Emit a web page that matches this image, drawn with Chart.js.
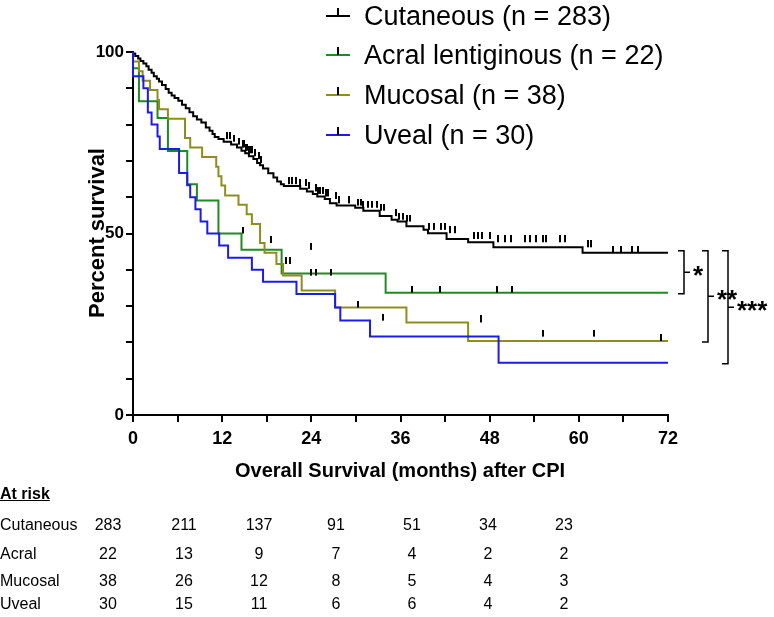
<!DOCTYPE html>
<html>
<head>
<meta charset="utf-8">
<script src="https://cdn.jsdelivr.net/npm/chart.js@4.4.1/dist/chart.umd.min.js"></script>
<style>
  html,body{margin:0;padding:0;background:#fff;}
  #wrap{position:relative;width:774px;height:617px;overflow:hidden;font-family:"Liberation Sans",Arial,Helvetica,sans-serif;color:#000;}
  #c{position:absolute;left:0;top:0;}
  .t{position:absolute;white-space:nowrap;line-height:1;}
  .leg{font-size:27px;transform:translateY(-50%);}
  .ttl{font-weight:bold;font-size:20px;}
  .row{font-size:16px;transform:translateY(-50%);}
  .num{font-size:16px;transform:translate(-50%,-50%);}
</style>
</head>
<body>
<div id="wrap">
<canvas id="c" width="774" height="617"></canvas>
</div>
<script>
// ---------- data ----------
const seriesNames = ["Cutaneous (n = 283)", "Acral lentiginous (n = 22)", "Mucosal (n = 38)", "Uveal (n = 30)"];
const seriesColors = ["#000000", "#1e8c1e", "#8f8d1f", "#1c1ce8"];

const cutT = [0,0.3,0.7,1.0,1.4,1.8,2.1,2.5,2.8,3.2,3.5,3.9,4.4,4.8,5.2,5.6,6.1,6.6,7.1,7.6,8.1,8.6,9.2,9.8,10.3,10.7,11.0,11.5,12.2,13.2,14.0,14.6,15.1,15.6,16.2,16.7,17.1,17.5,18.2,18.9,19.4,19.9,20.3,22.5,23.4,24.2,24.8,25.8,26.5,27.4,29.9,31.0,33.2,34.8,35.6,36.8,39.1,39.7,42.2,45.1,48.5,60.5,63.8,72];
const cutS = [100,99.6,98.9,98.2,97.5,96.8,96.1,95.1,94.3,93.3,92.6,91.9,90.9,89.8,88.8,88.0,87.3,86.6,85.5,84.5,83.4,82.3,81.4,80.6,79.2,78.3,77.4,76.6,76.0,75.3,74.5,73.7,72.8,72.1,71.3,70.5,69.4,68.8,67.9,66.6,65.4,64.3,63.6,63.1,62.3,61.6,60.9,60.2,59.5,58.3,57.7,57.1,56.3,54.8,53.8,53.3,52.0,51.0,50.1,48.5,47.6,46.2,44.7,44.7];
const cutCens = [12.6,13.1,13.6,14.2,14.8,15.0,15.2,15.4,15.6,15.8,16.0,16.4,16.9,17.2,21.0,21.4,21.9,22.5,23.3,23.7,24.6,24.9,25.2,25.6,26.0,26.3,27.3,27.7,29.1,30.3,30.7,31.0,31.6,32.2,32.8,33.4,33.8,35.4,35.8,36.3,36.9,37.3,39.8,40.5,41.4,42.0,42.6,43.4,45.9,46.4,47.0,48.0,49.1,50.0,50.9,52.7,53.4,54.3,55.2,55.6,57.4,58.1,61.2,61.6,64.6,65.7,67.1,68.0];

const acrT = [0,0.8,3.3,4.7,7.3,8.6,11.5,14.6,20.0,34.0,36.7,72];
const acrS = [100,95.5,86.4,81.8,72.7,63.6,59.1,50.0,45.5,39.0,33.7,33.7];
const acrCens = [14.8,24.0,37.6,41.3,49.0,51.0];

const mucT = [0,0.8,1.3,2.3,3.3,3.5,4.7,7.0,7.7,9.3,11.2,11.5,11.9,12.4,14.2,15.3,16.0,17.1,17.7,19.3,20.2,22.7,27.2,36.8,45.1,58.2,72];
const mucS = [100,97.4,94.7,92.1,89.5,86.8,84.2,81.6,76.3,73.7,71.1,68.4,65.8,63.2,60.5,57.9,55.3,52.6,47.4,44.7,41.6,38.4,34.3,29.6,25.5,20.4,20.4];
const mucCens = [18.6,20.6,21.1,24.0,24.6,26.6,46.8,71.1];

const uveT = [0,1.4,2.0,2.5,3.3,3.6,6.2,7.3,7.7,8.4,9.1,10.0,11.6,12.8,16.0,17.5,22.0,27.2,27.9,31.9,49.2,67.0,72];
const uveS = [100,93.3,90.0,83.3,80.0,76.7,73.3,66.7,63.3,60.0,56.7,53.3,50.0,46.7,43.3,40.0,36.7,33.3,29.6,26.0,21.6,14.4,14.4];
const uveCens = [30.3,33.6,55.2,62.1];

const xTickLabels = [0,12,24,36,48,60,72];
const yTickLabels = [0,50,100];

const riskRows = ["Cutaneous","Acral","Mucosal","Uveal"];
const riskCut = [283,211,137,91,51,34,23];
const riskAcr = [22,13,9,7,4,2,2];
const riskMuc = [38,26,12,8,5,4,3];
const riskUve = [30,15,11,6,6,4,2];
const stars = ["*","**","***"];

// ---------- helpers ----------
const FONT = '"Liberation Sans", Arial, Helvetica, sans-serif';
function pairs(T,S){ return T.map((t,i)=>({x:t,y:S[i]})); }
function at(T,S,t){ let v=S[0]; for(let i=0;i<T.length;i++){ if(T[i]<=t) v=S[i]; } return v; }
function cens(T,S,C){ return C.map(t=>({x:t,y:at(T,S,t)})); }
function tickImg(){ const c=document.createElement('canvas'); c.width=2; c.height=14; const g=c.getContext('2d'); g.fillStyle='#000'; g.fillRect(0,0,2,7); return c; }
const TICK = tickImg();

const curves = [
  {T:uveT,S:uveS,C:uveCens,col:seriesColors[3]},
  {T:mucT,S:mucS,C:mucCens,col:seriesColors[2]},
  {T:acrT,S:acrS,C:acrCens,col:seriesColors[1]},
  {T:cutT,S:cutS,C:cutCens,col:seriesColors[0]}
];
const datasets = [];
curves.forEach(c=>{
  datasets.push({type:'line',data:pairs(c.T,c.S),borderColor:c.col,borderWidth:2,stepped:'after',pointRadius:0,fill:false,clip:false,order:2});
});
curves.forEach(c=>{
  datasets.push({type:'scatter',data:cens(c.T,c.S,c.C),pointStyle:TICK,pointRadius:5,showLine:false,clip:false,order:1});
});

const legendY = [16,55,95,135];

const overlay = {
  id:'overlay',
  afterDraw(chart){
    const ctx = chart.ctx, ys = chart.scales.y;
    ctx.save();
    ctx.lineCap='butt';
    legendY.forEach((cy,i)=>{
      ctx.strokeStyle = seriesColors[i]; ctx.lineWidth=2;
      ctx.beginPath(); ctx.moveTo(326,cy); ctx.lineTo(350,cy); ctx.stroke();
      ctx.strokeStyle = '#000';
      ctx.beginPath(); ctx.moveTo(338,cy-8); ctx.lineTo(338,cy); ctx.stroke();
    });
    const top = ys.getPixelForValue(cutS[cutS.length-1]) - 2;
    const ends = [acrS[acrS.length-1], mucS[mucS.length-1], uveS[uveS.length-1]];
    const bx = [684,708,728];
    ctx.strokeStyle='#000'; ctx.lineWidth=1.5;
    ctx.fillStyle='#000';
    ctx.font = 'bold 26px ' + FONT;
    ctx.textAlign='left'; ctx.textBaseline='alphabetic';
    ends.forEach((v,i)=>{
      const bot = ys.getPixelForValue(v) + 1;
      const x = bx[i];
      ctx.beginPath();
      ctx.moveTo(x-6,top); ctx.lineTo(x,top); ctx.lineTo(x,bot); ctx.lineTo(x-6,bot);
      const mid=(top+bot)/2;
      ctx.moveTo(x,mid); ctx.lineTo(x+6,mid);
      ctx.stroke();
      ctx.fillText(stars[i], x+9, mid+12);
    });
    ctx.restore();
  }
};

const chart = new Chart(document.getElementById('c'), {
  data:{datasets},
  options:{
    responsive:false, animation:false, devicePixelRatio:1,
    layout:{padding:{left:0,top:52,right:106,bottom:142}},
    plugins:{legend:{display:false},tooltip:{enabled:false}},
    scales:{
      x:{type:'linear',min:0,max:72,
        afterBuildTicks:s=>{ s.ticks = [0,6,12,18,24,30,36,42,48,54,60,66,72].map(v=>({value:v})); },
        ticks:{autoSkip:false,maxRotation:0,padding:6,color:'#000',font:{family:FONT,size:18,weight:'bold'},
          callback:v=> xTickLabels.includes(v) ? String(v) : ''},
        grid:{drawOnChartArea:false,drawTicks:true,tickLength:7,lineWidth:2,color:'#000'},
        border:{display:true,color:'#000',width:2},
        afterFit:s=>{ s.height=60; }
      },
      y:{type:'linear',min:0,max:100,
        afterBuildTicks:s=>{ s.ticks = [0,10,20,30,40,50,60,70,80,90,100].map(v=>({value:v})); },
        ticks:{autoSkip:false,padding:2,color:'#000',font:{family:FONT,size:17,weight:'bold'},
          callback:v=> yTickLabels.includes(v) ? String(v) : ''},
        grid:{drawOnChartArea:false,drawTicks:true,tickLength:7,lineWidth:2,color:'#000'},
        border:{display:true,color:'#000',width:2},
        afterFit:s=>{ s.width=133; }
      }
    }
  },
  plugins:[overlay]
});

// ---------- HTML text ----------
const wrap = document.getElementById('wrap');
function add(cls, txt, css){ const d=document.createElement('div'); d.className='t '+cls; d.textContent=txt; Object.assign(d.style,css); wrap.appendChild(d); return d; }
seriesNames.forEach((n,i)=> add('leg', n, {left:'364px', top:legendY[i]+'px'}));
add('ttl', 'Overall Survival (months) after CPI', {left:'400px', top:'470px', transform:'translate(-50%,-50%)'});
add('ttl', 'Percent survival', {left:'97px', top:'233px', fontSize:'22px', transform:'translate(-50%,-50%) rotate(-90deg)'});
add('row', 'At risk', {left:'0px', top:'494px', fontWeight:'bold', textDecoration:'underline'});
const riskData = [riskCut, riskAcr, riskMuc, riskUve];
const rowY = [525,554,581,604];
const colX = [108,184,259,336,412,488,564];
riskRows.forEach((r,i)=>{
  add('row', r, {left:'0px', top:rowY[i]+'px'});
  riskData[i].forEach((v,j)=> add('num', String(v), {left:colX[j]+'px', top:rowY[i]+'px'}));
});
</script>
</body>
</html>
